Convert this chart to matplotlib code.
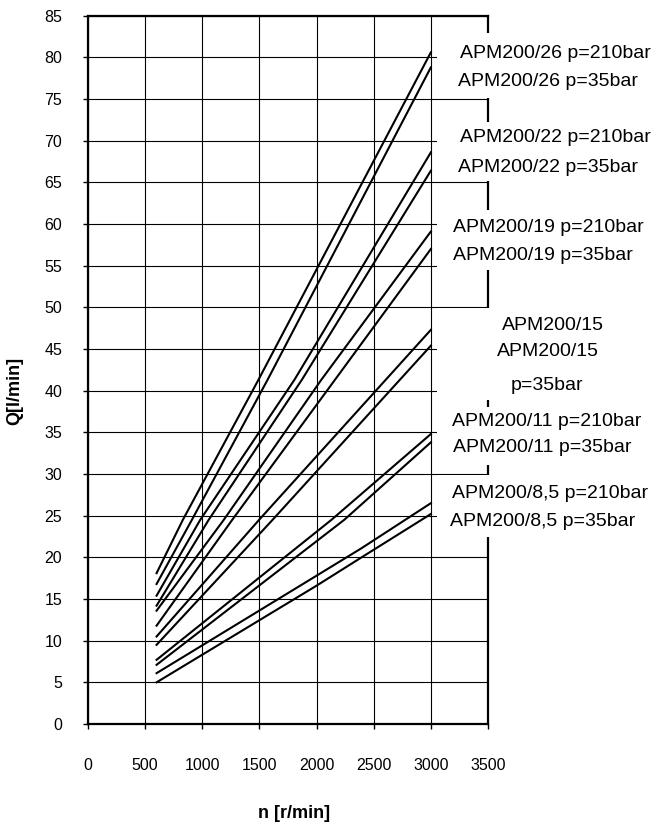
import matplotlib.pyplot as plt
from matplotlib.patches import Rectangle

W, H = 665, 826

# speed [r/min] and flow [l/min], one pair of lists per curve
n_26_210 = [600, 830, 1491, 3000]
q_26_210 = [18.1, 24.5, 41.3, 80.6]
n_26_35 = [600, 909, 1571, 3000]
q_26_35 = [16.8, 24.5, 41.3, 78.8]
n_22_210 = [600, 982, 1806, 3000]
q_22_210 = [15.4, 24.5, 41.3, 68.6]
n_22_35 = [600, 1056, 1871, 3000]
q_22_35 = [14.2, 24.5, 41.3, 66.4]
n_19_210 = [600, 1188, 2041, 3000]
q_19_210 = [13.6, 24.5, 41.3, 59.1]
n_19_35 = [600, 1262, 3000]
q_19_35 = [11.8, 24.5, 57.0]
n_15_210 = [600, 1497, 3000]
q_15_210 = [10.5, 24.5, 47.3]
n_15_35 = [600, 1615, 3000]
q_15_35 = [9.5, 24.5, 45.4]
n_11_210 = [600, 2130, 3000]
q_11_210 = [7.7, 24.5, 34.8]
n_11_35 = [600, 2242, 3000]
q_11_35 = [7.1, 24.5, 33.8]
n_85_210 = [600, 2000, 2394, 3000]
q_85_210 = [6.1, 17.8, 21.1, 26.5]
n_85_35 = [600, 2000, 2394, 3000]
q_85_35 = [5.0, 16.6, 20.0, 25.2]

curves = [(n_26_210, q_26_210), (n_26_35, q_26_35),
          (n_22_210, q_22_210), (n_22_35, q_22_35),
          (n_19_210, q_19_210), (n_19_35, q_19_35),
          (n_15_210, q_15_210), (n_15_35, q_15_35),
          (n_11_210, q_11_210), (n_11_35, q_11_35),
          (n_85_210, q_85_210), (n_85_35, q_85_35)]

xticks = list(range(0, 3501, 500))
yticks = list(range(0, 86, 5))

# label text, x, y (pixels), alignment
labels = [
    ("APM200/26 p=210bar", 460, 53, "left"),
    ("APM200/26 p=35bar", 458, 82, "left"),
    ("APM200/22 p=210bar", 460, 138, "left"),
    ("APM200/22 p=35bar", 458, 167, "left"),
    ("APM200/19 p=210bar", 453, 227, "left"),
    ("APM200/19 p=35bar", 453, 255, "left"),
    ("APM200/15", 553, 325, "center"),
    ("APM200/15", 548, 352, "center"),
    ("p=35bar", 547, 386, "center"),
    ("APM200/11 p=210bar", 452, 422, "left"),
    ("APM200/11 p=35bar", 453, 447, "left"),
    ("APM200/8,5 p=210bar", 452, 493, "left"),
    ("APM200/8,5 p=35bar", 450, 522, "left"),
]
# white boxes behind label groups (top, bottom in pixels)
boxes = [(33, 98), (122, 181), (210, 270), (308, 400), (407, 465), (475, 537)]

plt.rcParams['font.family'] = ['Liberation Sans', 'DejaVu Sans']

fig = plt.figure(figsize=(W / 100, H / 100), dpi=100)
ax = fig.add_axes([88 / W, 1 - 724 / H, 400 / W, (724 - 15.7) / H])

for n, q in curves:
    ax.plot(n, q, color='black', lw=1.5, zorder=3)

ax.set_xlim(0, 3500)
ax.set_ylim(0, 85)
ax.set_xticks(xticks)
ax.set_yticks(yticks)
ax.grid(True, color='black', lw=0.8)
ax.set_axisbelow(True)
for s in ax.spines.values():
    s.set_linewidth(1.6)
ax.tick_params(direction='out', length=3.6, width=1, labelsize=11.5)
ax.tick_params(axis='y', pad=15)
ax.tick_params(axis='x', pad=21)

fig.text(294 / W, 1 - 814 / H, "n [r/min]", ha='center', va='center',
         fontsize=13, fontweight='bold')
fig.text(15 / W, 1 - 391 / H, "Q[l/min]", ha='center', va='center',
         rotation=90, fontsize=13, fontweight='bold')

for top, bot in boxes:
    fig.add_artist(Rectangle((437 / W, 1 - bot / H), (W - 437) / W, (bot - top) / H,
                             transform=fig.transFigure, fc='white', ec='none', zorder=5))

for txt, x, y, ha in labels:
    fig.text(x / W, 1 - y / H, txt, ha=ha, va='center', fontsize=14, zorder=6)

fig.savefig("out.png", dpi=100)
